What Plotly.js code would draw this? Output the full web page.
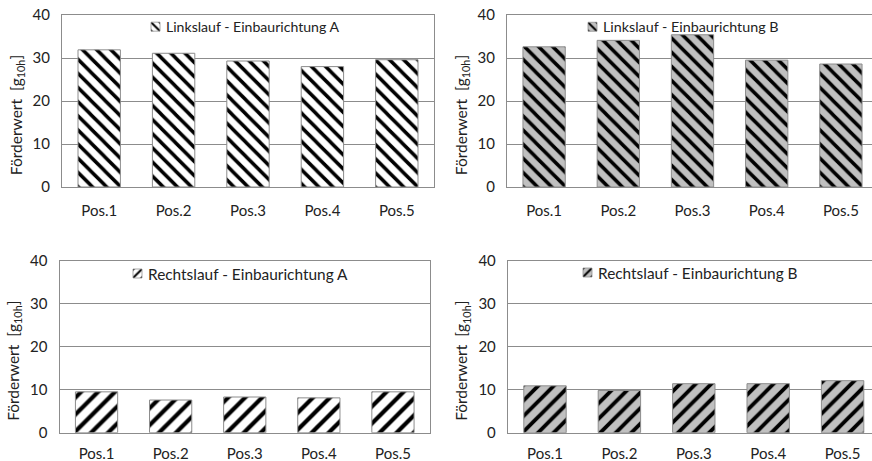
<!DOCTYPE html>
<html>
<head>
<meta charset="utf-8">
<script src="https://cdn.plot.ly/plotly-3.0.1.min.js"></script>
<style>
html,body{margin:0;padding:0;overflow:hidden;background:#fff;}
#chart{width:880px;height:461px;}
</style>
</head>
<body>
<div id="chart"></div>
<script>
const categories = ["Pos.1", "Pos.2", "Pos.3", "Pos.4", "Pos.5"];
const linksA = [31.9, 31.1, 29.3, 28.0, 29.6];
const linksB = [32.6, 34.1, 35.4, 29.5, 28.6];
const rechtsA = [9.5, 7.6, 8.3, 8.1, 9.5];
const rechtsB = [10.9, 9.8, 11.4, 11.4, 12.1];
const seriesNames = ["Linkslauf - Einbaurichtung A", "Linkslauf - Einbaurichtung B",
                     "Rechtslauf - Einbaurichtung A", "Rechtslauf - Einbaurichtung B"];
const yTicks = [0, 10, 20, 30, 40];
const yTitle = "Förderwert\u00a0 [g<sub>10h</sub>]";

const W = 880, H = 461;
const FONT = "Lato, 'Open Sans', sans-serif";
const GRID = "#8c8c8c";

function bar(y, name, idx, bg, shape, size) {
  return {
    type: "bar", x: categories, y: y, name: name,
    xaxis: idx === 1 ? "x" : "x" + idx,
    yaxis: idx === 1 ? "y" : "y" + idx,
    legend: idx === 1 ? "legend" : "legend" + idx,
    marker: {
      color: bg,
      line: {color: "#8c8c8c", width: 1},
      pattern: {shape: shape, fgcolor: "#000", bgcolor: bg, size: size, solidity: 0.35}
    },
    hoverinfo: "skip"
  };
}

const data = [
  bar(linksA, seriesNames[0], 1, "#ffffff", "\\", 10),
  bar(linksB, seriesNames[1], 2, "#c0c0c0", "\\", 10),
  bar(rechtsA, seriesNames[2], 3, "#ffffff", "/", 12),
  bar(rechtsB, seriesNames[3], 4, "#c0c0c0", "/", 11)
];

function px(x){ return x / W; }
function py(y){ return 1 - y / H; }

function xax(d0, d1, anchor, tl) {
  return {
    domain: [px(d0), px(d1)], anchor: anchor,
    showline: true, mirror: true, linecolor: GRID, linewidth: 1,
    showgrid: false, ticks: "outside", ticklen: tl, tickcolor: "rgba(0,0,0,0)",
    tickfont: {family: FONT, size: 15, color: "#222"}, fixedrange: true
  };
}
function yax(t, b, anchor) {
  return {
    domain: [py(b), py(t)], anchor: anchor, range: [0, 40],
    tickvals: yTicks, ticktext: yTicks.map(String),
    showline: true, mirror: true, linecolor: GRID, linewidth: 1,
    showgrid: true, gridcolor: GRID, gridwidth: 1, zeroline: false,
    ticks: "outside", ticklen: 8, tickcolor: "rgba(0,0,0,0)",
    tickfont: {family: FONT, size: 15, color: "#222"},
    title: {text: yTitle, font: {family: FONT, size: 15.5, color: "#222"}, standoff: 6},
    fixedrange: true
  };
}
function leg(iconLeft, cy, fs) {
  return {
    x: px(iconLeft - 6.5), y: py(cy), xanchor: "left", yanchor: "middle",
    bgcolor: "rgba(0,0,0,0)", borderwidth: 0,
    font: {family: FONT, size: fs, color: "#222"},
    itemwidth: 30
  };
}

const layout = {
  width: W, height: H,
  margin: {l: 0, r: 0, t: 0, b: 0},
  paper_bgcolor: "#fff", plot_bgcolor: "#fff",
  bargap: 0.43,
  showlegend: true,
  xaxis: xax(62, 434, "y", 10),
  yaxis: yax(15, 187, "x"),
  xaxis2: xax(507, 878, "y2", 10),
  yaxis2: yax(15, 187, "x2"),
  xaxis3: xax(59.5, 430, "y3", 7),
  yaxis3: yax(260.7, 432.7, "x3"),
  xaxis4: xax(507.8, 879.8, "y4", 7),
  yaxis4: yax(260.7, 432.7, "x4"),
  legend: leg(151, 27, 14.1),
  legend2: leg(588, 27, 14.3),
  legend3: leg(133, 274, 15.4),
  legend4: leg(583, 273, 15.4)
};

function tidy(gd) {
  // tighter legend: small icon directly before the text, as in the reference
  gd.querySelectorAll("g.traces").forEach(function(tr){
    const pts = tr.querySelector(".legendpoints");
    if (pts && !pts.dataset.done) {
      const t = pts.getAttribute("transform") || "";
      pts.setAttribute("transform", t + " translate(-4,0) scale(0.75)");
      pts.dataset.done = "1";
    }
    tr.querySelectorAll("text").forEach(function(t){ t.setAttribute("x", "21.5"); });
  });
  // y titles sit a little below the plot centre in the reference
  ["g-ytitle", "g-y2title", "g-y3title", "g-y4title"].forEach(function(c){
    const g = gd.querySelector("." + c);
    if (g) g.setAttribute("transform", "translate(0,14)");
  });
}

Plotly.newPlot("chart", data, layout, {displayModeBar: false, staticPlot: true}).then(function(gd){
  tidy(gd);
  requestAnimationFrame(function(){ tidy(gd); });
  setTimeout(function(){ tidy(gd); }, 50);
  setTimeout(function(){ tidy(gd); }, 300);
});
</script>
</body>
</html>
